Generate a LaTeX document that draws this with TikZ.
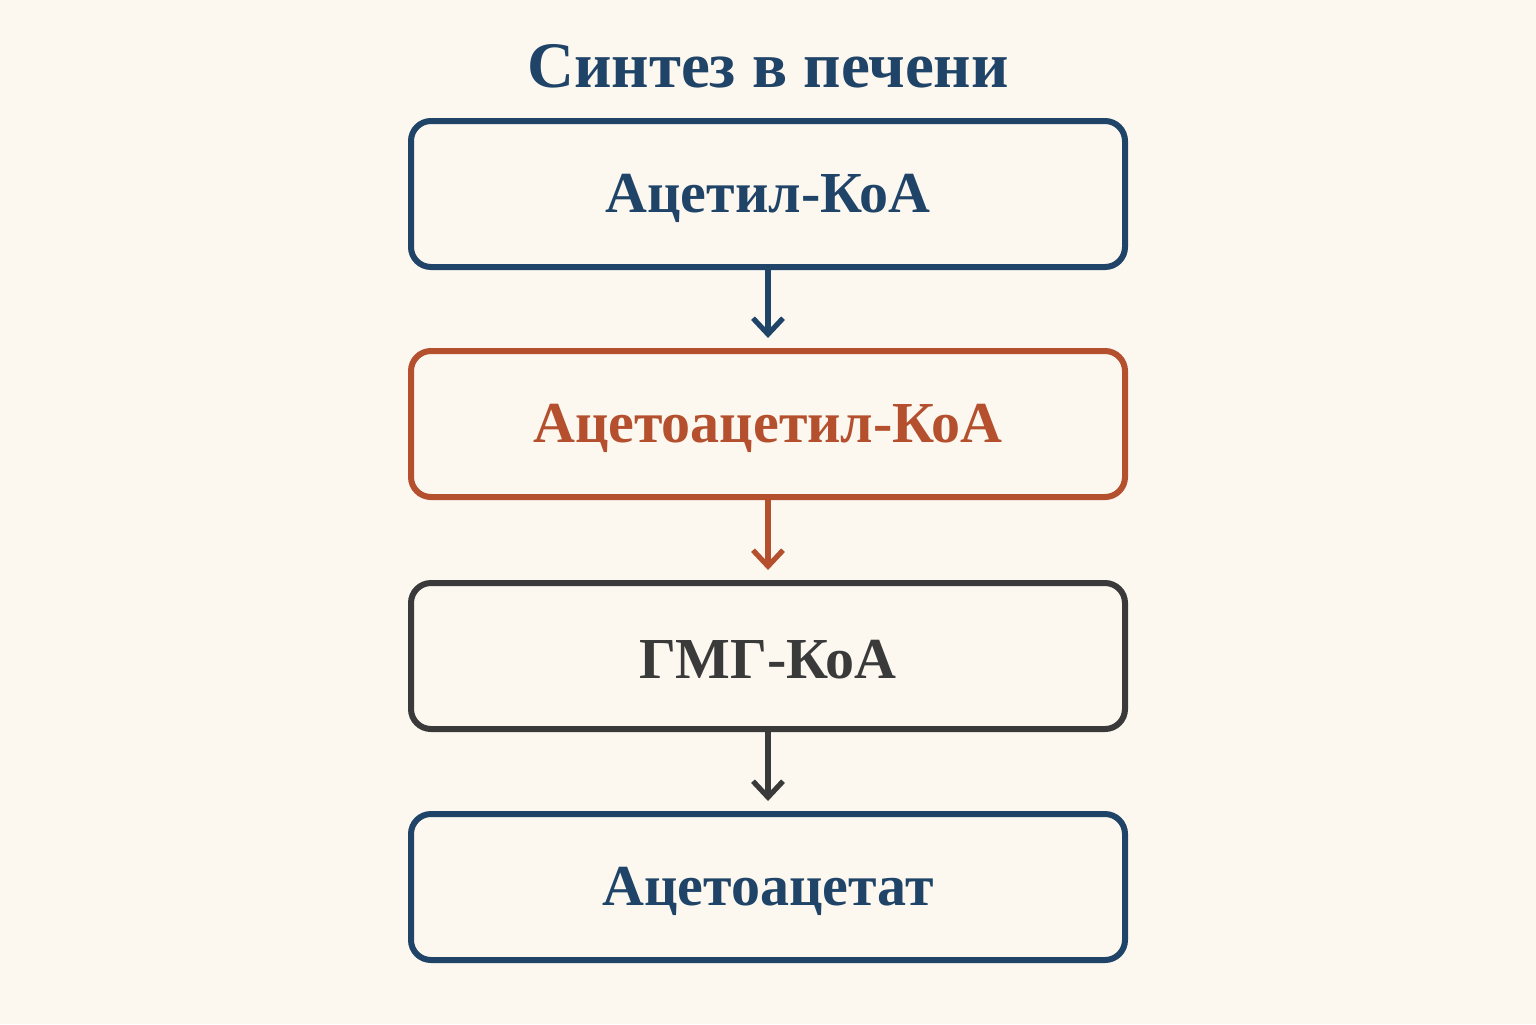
\documentclass[tikz,border=0pt]{standalone}
\usepackage{fontspec}
\setmainfont{Liberation Serif}
\usetikzlibrary{arrows.meta}
\definecolor{bg}{HTML}{FCF8F0}
\definecolor{cblue}{HTML}{1F4468}
\definecolor{corange}{HTML}{B5502F}
\definecolor{cdark}{HTML}{3A3A3A}
\begin{document}
\begin{tikzpicture}[x=0.5pt,y=-0.5pt,
  box/.style={draw,line width=3pt,rounded corners=10pt,minimum width=357pt,minimum height=73pt,fill=bg},
  lbl/.style={font=\fontsize{29}{34}\selectfont\bfseries},
  arr/.style={line width=2.6pt,-{Straight Barb[length=8pt,width=15pt,line width=2.6pt]},shorten >=5pt}]
\fill[bg] (0,0) rectangle (1536,1024);
\useasboundingbox (0,0) rectangle (1536,1024);
\node[font=\fontsize{32.5}{38}\selectfont\bfseries,text=cblue] (t) at (768,66) {Синтез в печени};
\node[box,draw=cblue] (a) at (768,194) {};
\node[box,draw=corange] (b) at (768,424) {};
\node[box,draw=cdark] (c) at (768,656) {};
\node[box,draw=cblue] (d) at (768,887) {};
\node[lbl,text=cblue] (ta) at (768,198) {Ацетил-КоА};
\node[lbl,text=corange] (tb) at (768,428) {Ацетоацетил-КоА};
\node[lbl,text=cdark] (tc) at (768,660) {ГМГ-КоА};
\node[lbl,text=cblue] (td) at (768,891) {Ацетоацетат};
\draw[arr,cblue] (a) -- (b);
\draw[arr,corange] (b) -- (c);
\draw[arr,cdark] (c) -- (d);
\end{tikzpicture}
\end{document}
